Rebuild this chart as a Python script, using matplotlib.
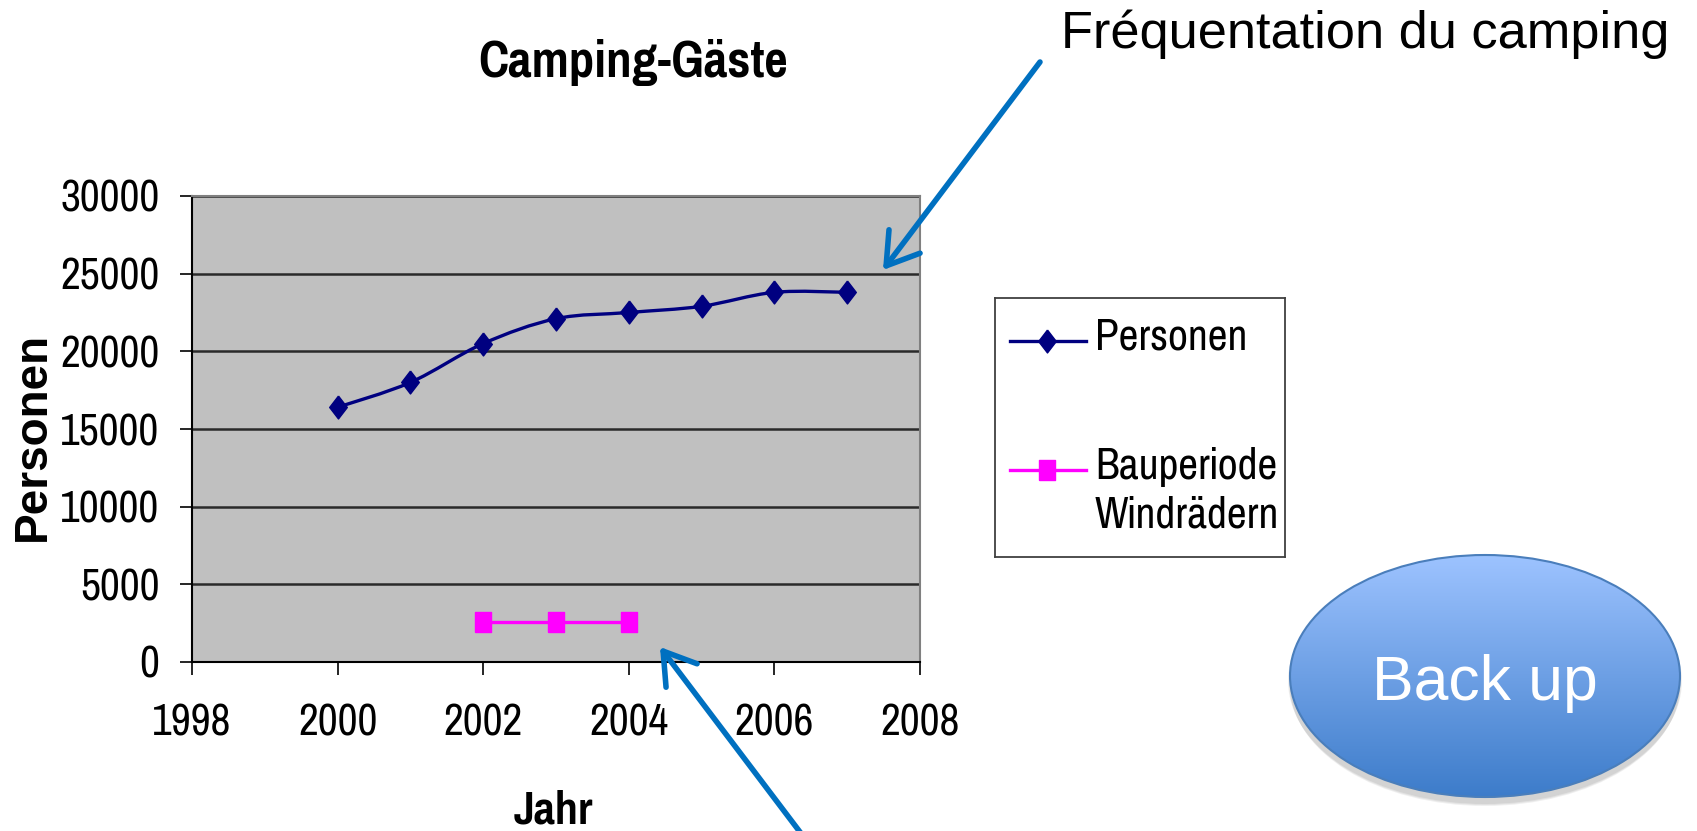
import numpy as np
import matplotlib
matplotlib.use("Agg")
from matplotlib import pyplot as plt
from matplotlib import patches
from matplotlib.path import Path
from matplotlib.lines import Line2D

plt.rcParams['font.family'] = ['Liberation Sans', 'DejaVu Sans']
NARROW = ['Pragati Narrow', 'PT Sans Narrow', 'Archivo Narrow', 'Liberation Sans']

# Daten
jahre = [2000, 2001, 2002, 2003, 2004, 2005, 2006, 2007]
personen = [16400, 18000, 20500, 22100, 22500, 22900, 23800, 23800]
bau_jahre = [2002, 2003, 2004]
bau_werte = [2600, 2600, 2600]

x_ticks = [1998, 2000, 2002, 2004, 2006, 2008]
y_ticks = [0, 5000, 10000, 15000, 20000, 25000, 30000]

W, H = 1697, 831
NAVY = "#000080"
MAGENTA = "#FF00FF"
BLUE = "#0070C0"

# Marker wie in Excel: hohe Raute, leicht hohes Quadrat
diamond = Path([(0, 1.3), (1, 0), (0, -1.3), (-1, 0), (0, 1.3)])
square = Path([(-1, -1.25), (1, -1.25), (1, 1.25), (-1, 1.25), (-1, -1.25)])


def smooth_path(xs, ys):
    # geglaettete Linie (Bezier, Catmull-Rom mit Faktor 1/6)
    pts = np.column_stack([xs, ys]).astype(float)
    ext = np.vstack([pts[0], pts, pts[-1]])
    verts = [tuple(pts[0])]
    codes = [Path.MOVETO]
    for i in range(len(pts) - 1):
        p0, p1, p2, p3 = ext[i], ext[i + 1], ext[i + 2], ext[i + 3]
        c1 = p1 + (p2 - p0) / 6
        c2 = p2 - (p3 - p1) / 6
        verts += [tuple(c1), tuple(c2), tuple(p2)]
        codes += [Path.CURVE4] * 3
    return Path(verts, codes)


fig = plt.figure(figsize=(W / 100, H / 100), dpi=100)
ax = fig.add_axes([192 / W, 1 - 662 / H, (920 - 192) / W, (662 - 196) / H])
ax.set_facecolor("#C0C0C0")

ax.add_patch(patches.PathPatch(smooth_path(jahre, personen), fill=False,
                               edgecolor=NAVY, lw=2.4, zorder=3))
ax.plot(jahre, personen, ls="none", marker=diamond, ms=16.5, color=NAVY, zorder=4)
ax.plot(bau_jahre, bau_werte, color=MAGENTA, lw=2.4, marker=square, ms=15,
        zorder=4)

ax.set_xlim(1998, 2008)
ax.set_ylim(0, 30000)
ax.set_xticks(x_ticks)
ax.set_yticks(y_ticks)
ax.set_xticklabels([str(v) for v in x_ticks], family=NARROW, fontsize=34)
ax.set_yticklabels([str(v) for v in y_ticks], family=NARROW, fontsize=34)
ax.tick_params(axis="y", length=8.5, width=1.2, pad=15)
ax.tick_params(axis="x", length=9, width=1.2, pad=21)
ax.yaxis.grid(True, color="#2A2A2A", lw=1.8)
ax.set_axisbelow(True)
for s in ("top", "right"):
    ax.spines[s].set_color("#808080")
    ax.spines[s].set_linewidth(1.5)
for s in ("left", "bottom"):
    ax.spines[s].set_color("black")
    ax.spines[s].set_linewidth(1.5)

fig.text(633 / W, 1 - 77 / H, "Camping-Gäste", family=NARROW, weight="bold",
         fontsize=40, ha="center", va="baseline")
fig.text(553 / W, 1 - 823 / H, "Jahr", family=NARROW, weight="bold",
         fontsize=36, ha="center", va="baseline")
fig.text(33 / W, 1 - 436 / H, "Personen", weight="bold", fontsize=33,
         rotation=90, ha="center", va="center")

# Legende
lax = fig.add_axes([995 / W, 1 - 557 / H, 290 / W, 259 / H])
lax.set_xlim(0, 290)
lax.set_ylim(259, 0)
lax.set_xticks([])
lax.set_yticks([])
for s in lax.spines.values():
    s.set_color("#404040")
    s.set_linewidth(1.3)
lax.add_line(Line2D([15, 91], [43, 43], color=NAVY, lw=2.4))
lax.plot([52], [43], marker=diamond, ms=16.5, color=NAVY)
lax.add_line(Line2D([15, 91], [172, 172], color=MAGENTA, lw=2.4))
lax.plot([52], [172], marker=square, ms=15, color=MAGENTA)
lax.text(100, 52, "Personen", family=NARROW, fontsize=34, va="baseline")
lax.text(100, 181, "Bauperiode", family=NARROW, fontsize=34, va="baseline")
lax.text(100, 230, "Windrädern", family=NARROW, fontsize=34, va="baseline")

# Overlay fuer Pfeile, Beschriftung und Knopf
ov = fig.add_axes([0, 0, 1, 1], zorder=10)
ov.set_xlim(0, W)
ov.set_ylim(H, 0)
ov.axis("off")

fig.text(1061 / W, 1 - 48 / H, "Fréquentation du camping", fontsize=37.7,
         ha="left", va="baseline", zorder=11)

arrow = dict(arrowstyle="->,head_length=0.55,head_width=0.35", color=BLUE,
             lw=4, mutation_scale=40, shrinkA=0, shrinkB=0)
ov.annotate("", xy=(883, 270), xytext=(1040, 62), arrowprops=arrow)
ov.annotate("", xy=(660, 647), xytext=(806, 840), arrowprops=arrow)

# Knopf "Back up" mit Verlauf
cx, cy, ew, eh = 1485, 676, 390, 242
for k, a in enumerate([0.06, 0.06, 0.06]):
    ov.add_patch(patches.Ellipse((cx, cy + 5 + 2 * k), ew + 4 - 2 * k, eh + 4 - 2 * k,
                                 color="black", alpha=a, lw=0))
ell = patches.Ellipse((cx, cy), ew, eh, facecolor="none", edgecolor="#4A7EBB",
                      lw=1.5, zorder=3)
ov.add_patch(ell)
top = np.array([0x9D, 0xC3, 0xFF]) / 255
bot = np.array([0x3D, 0x7C, 0xCA]) / 255
t = np.linspace(0, 1, 256)[:, None]
grad = (top * (1 - t) + bot * t)[:, None, :]
img = ov.imshow(grad, extent=(cx - ew / 2, cx + ew / 2, cy + eh / 2, cy - eh / 2),
                aspect="auto", zorder=2, interpolation="bilinear")
img.set_clip_path(ell)
ov.set_xlim(0, W)
ov.set_ylim(H, 0)
ov.text(cx, 700, "Back up", color="white", fontsize=45, ha="center",
        va="baseline", zorder=4)

fig.savefig("out.png", dpi=100)
